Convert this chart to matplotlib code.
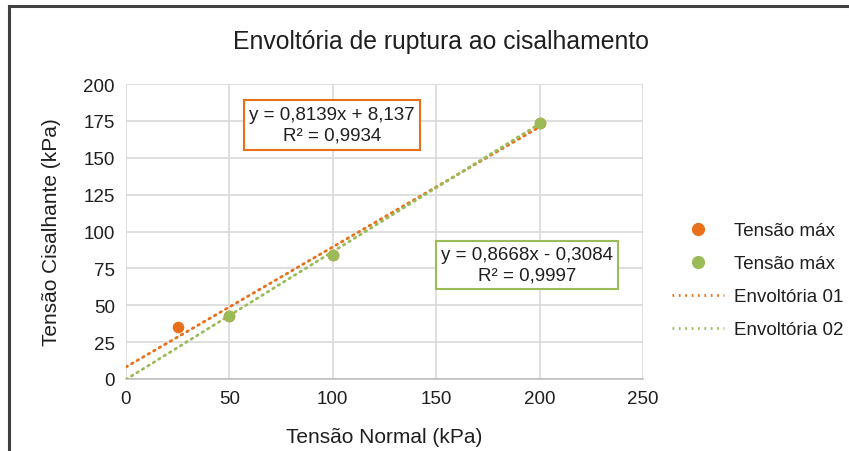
import matplotlib.pyplot as plt
import numpy as np
from matplotlib.lines import Line2D

plt.rcParams['font.family'] = ['Liberation Sans', 'DejaVu Sans']

# data
x_orange = [25, 50, 100, 200]
y_orange = [35.5, 43, 84, 173.5]
x_green = [50, 100, 200]
y_green = [43, 84, 173.5]

# trendline coefficients (slope, intercept) from the chart labels
fit_orange = [0.8139, 8.137]
fit_green = [0.8668, -0.3084]
eq_orange = "y = 0,8139x + 8,137\nR² = 0,9934"
eq_green = "y = 0,8668x - 0,3084\nR² = 0,9997"

orange = '#E8701A'
green = '#9BBB59'
txt = '#1F1F1F'

fig = plt.figure(figsize=(8.49, 4.52), dpi=100)
ax = fig.add_axes([0.1484, 0.1593, 0.609, 0.6526])

xs = np.array([0, 200])
dots = (0, (0.6, 1.7))
ax.plot(xs, fit_orange[0] * xs + fit_orange[1], color=orange, lw=2,
        linestyle=dots, dash_capstyle='round', zorder=3)
ax.plot(xs, fit_green[0] * xs + fit_green[1], color=green, lw=2,
        linestyle=dots, dash_capstyle='round', zorder=3)
ax.scatter(x_orange, y_orange, s=70, color=orange, zorder=4, linewidths=0)
ax.scatter(x_green, y_green, s=70, color=green, zorder=5, linewidths=0)

ax.set_xlim(0, 250)
ax.set_ylim(0, 200)
ax.set_xticks(np.arange(0, 251, 50))
ax.set_yticks(np.arange(0, 201, 25))
ax.grid(True, color='#D9D9D9', lw=1.2)
ax.set_axisbelow(True)
for s in ['top', 'right', 'left']:
    ax.spines[s].set_visible(False)
ax.spines['bottom'].set_color('#BFBFBF')
ax.spines['bottom'].set_linewidth(1.2)
ax.tick_params(length=0, labelsize=13.5, colors=txt, pad=8)

ax.set_xlabel("Tensão Normal (kPa)", fontsize=15, color=txt, labelpad=14)
ax.set_ylabel("Tensão Cisalhante (kPa)", fontsize=15, color=txt, labelpad=16)
fig.text(0.519, 0.907, "Envoltória de ruptura ao cisalhamento", fontsize=17.8,
         ha='center', va='center', color=txt)

ax.text(99.6, 172.2, eq_orange, fontsize=13.5, ha='center', va='center', color=txt,
        linespacing=1.3,
        bbox=dict(boxstyle='square,pad=0.3', fc='white', ec=orange, lw=1.5), zorder=6)
ax.text(193.9, 77.3, eq_green, fontsize=13.5, ha='center', va='center', color=txt,
        linespacing=1.3,
        bbox=dict(boxstyle='square,pad=0.25', fc='white', ec=green, lw=1.5), zorder=6)

handles = [
    Line2D([], [], marker='o', color=orange, linestyle='none', markersize=8.5),
    Line2D([], [], marker='o', color=green, linestyle='none', markersize=8.5),
    Line2D([], [], color=orange, lw=2, linestyle=dots),
    Line2D([], [], color=green, lw=2, linestyle=dots),
]
labels = ["Tensão máx", "Tensão máx", "Envoltória 01", "Envoltória 02"]
fig.legend(handles, labels, loc='center left', bbox_to_anchor=(0.772, 0.378),
           frameon=False, fontsize=13.5, handlelength=2.77, handletextpad=0.5,
           labelspacing=0.85, labelcolor=txt)

# outer chart frame (top and left edges visible)
fig.add_artist(Line2D([0.011, 0.011], [0, 0.984], color='#404040', lw=2.2,
                      transform=fig.transFigure))
fig.add_artist(Line2D([0.011, 1.0], [0.984, 0.984], color='#404040', lw=2.2,
                      transform=fig.transFigure))

fig.savefig('out.png', dpi=100)
